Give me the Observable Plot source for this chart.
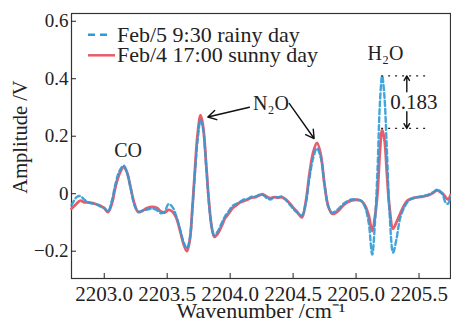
<!DOCTYPE html>
<html><head><meta charset="utf-8">
<script src="https://cdn.jsdelivr.net/npm/d3@7"></script>
<script src="https://cdn.jsdelivr.net/npm/@observablehq/plot@0.6"></script>
<style>body{margin:0;background:#fff} #chart svg{display:block}</style>
</head><body><div id="chart"></div>
<script>
const wavenumber = [2202.74,2202.78,2202.81,2202.84,2202.88,2202.92,2202.96,2203.00,2203.03,2203.06,2203.09,2203.12,2203.155,2203.18,2203.21,2203.24,2203.27,2203.30,2203.34,2203.38,2203.42,2203.45,2203.48,2203.51,2203.54,2203.57,2203.60,2203.63,2203.657,2203.68,2203.70,2203.72,2203.74,2203.765,2203.785,2203.81,2203.83,2203.855,2203.875,2203.90,2203.93,2203.96,2203.99,2204.02,2204.05,2204.08,2204.11,2204.14,2204.17,2204.20,2204.23,2204.26,2204.29,2204.32,2204.35,2204.38,2204.41,2204.44,2204.47,2204.50,2204.53,2204.57,2204.60,2204.63,2204.66,2204.69,2204.72,2204.75,2204.78,2204.81,2204.84,2204.87,2204.90,2204.93,2204.96,2205.00,2205.04,2205.07,2205.10,2205.128,2205.15,2205.17,2205.19,2205.207,2205.225,2205.245,2205.265,2205.294,2205.32,2205.35,2205.38,2205.41,2205.45,2205.49,2205.53,2205.57,2205.61,2205.645,2205.67,2205.69,2205.71,2205.73,2205.75];
const sunny = [-0.052,-0.035,-0.024,-0.030,-0.030,-0.034,-0.040,-0.050,-0.064,-0.035,0.025,0.068,0.093,0.075,0.020,-0.035,-0.064,-0.060,-0.050,-0.046,-0.050,-0.062,-0.066,-0.056,-0.062,-0.082,-0.125,-0.175,-0.200,-0.160,-0.050,0.080,0.200,0.273,0.235,0.100,-0.020,-0.120,-0.150,-0.140,-0.115,-0.085,-0.068,-0.050,-0.040,-0.030,-0.025,-0.020,-0.014,-0.012,-0.006,-0.002,-0.010,-0.015,-0.012,-0.014,-0.012,-0.020,-0.032,-0.048,-0.062,-0.082,-0.030,0.070,0.145,0.177,0.135,0.030,-0.045,-0.070,-0.066,-0.055,-0.040,-0.030,-0.024,-0.021,-0.025,-0.040,-0.075,-0.130,-0.080,0.000,0.150,0.222,0.190,0.070,-0.045,-0.122,-0.100,-0.070,-0.042,-0.023,-0.016,-0.012,-0.010,-0.006,0.002,0.012,0.005,0.000,-0.012,-0.020,-0.005];
const rainy = [-0.040,-0.012,-0.008,-0.020,-0.032,-0.035,-0.042,-0.050,-0.062,-0.025,0.035,0.078,0.098,0.075,0.020,-0.040,-0.062,-0.060,-0.055,-0.052,-0.058,-0.068,-0.062,-0.036,-0.045,-0.075,-0.120,-0.168,-0.190,-0.155,-0.055,0.070,0.180,0.256,0.225,0.095,-0.025,-0.120,-0.145,-0.132,-0.105,-0.078,-0.060,-0.042,-0.035,-0.028,-0.020,-0.018,-0.010,-0.010,-0.004,-0.004,-0.015,-0.020,-0.012,-0.012,-0.010,-0.020,-0.036,-0.052,-0.065,-0.075,-0.035,0.055,0.125,0.158,0.125,0.030,-0.045,-0.066,-0.060,-0.048,-0.035,-0.026,-0.020,-0.020,-0.024,-0.045,-0.100,-0.212,-0.100,0.080,0.320,0.410,0.340,0.150,-0.060,-0.205,-0.160,-0.085,-0.050,-0.028,-0.015,-0.012,-0.008,-0.004,0.005,0.014,0.008,-0.005,-0.030,-0.035,-0.010];
const seriesNames = ["Feb/5 9:30 rainy day", "Feb/4 17:00 sunny day"];
const xTicks = [2203.0, 2203.5, 2204.0, 2204.5, 2205.0, 2205.5];
const yTicks = [-0.2, 0, 0.2, 0.4, 0.6];
const peakNames = ["CO", "N₂O", "H₂O"];
const peakX = [2203.19, 2204.324, 2205.234];
const peakY = [0.151, 0.314, 0.489];
const n2oArrowX1 = [2204.153, 2204.469], n2oArrowY1 = [0.301, 0.314];
const n2oArrowX2 = [2203.823, 2204.667], n2oArrowY2 = [0.267, 0.192];
const h2oLevels = [0.41, 0.227];
const h2oDiffLabel = "0.183";

const blue = "#2e9bd8", red = "#e65e6d";
const ML = 71;
const rows = wavenumber.map((w, i) => ({w, sunny: sunny[i], rainy: rainy[i]}));
const fmtY = d => d === 0 ? "0" : (d < 0 ? "\u2212" : "") + Math.abs(d).toFixed(1);

function legend() {
  const g = d3.create("svg:g").attr("font-size", 22).attr("text-anchor", "start");
  const entries = [
    {name: seriesNames[0], color: blue, dash: "7,5", y: 34.7, len: 20},
    {name: seriesNames[1], color: red, dash: null, y: 55.3, len: 27}
  ];
  for (const e of entries) {
    g.append("line").attr("x1", ML + 17).attr("x2", ML + 17 + e.len).attr("y1", e.y).attr("y2", e.y)
      .attr("stroke", e.color).attr("stroke-width", 2.5).attr("stroke-dasharray", e.dash);
    g.append("text").attr("x", ML + 46).attr("y", e.y).attr("dy", "0.32em").attr("fill", "#222").text(e.name);
  }
  return g.node();
}

const diffX = 2205.403;
const chart = Plot.plot({
  width: 451, height: 322,
  marginLeft: ML, marginRight: 1, marginTop: 13, marginBottom: 44,
  style: {fontFamily: "Liberation Serif", fontSize: "20px", color: "#222", background: "#fff"},
  x: {domain: [2202.74, 2205.75], axis: null},
  y: {domain: [-0.295, 0.627], axis: null},
  marks: [
    Plot.frame({stroke: "#333", strokeWidth: 1.2}),
    Plot.axisX(xTicks, {tickSize: -5, tickPadding: 13, tickFormat: d3.format(".1f"), label: null, fontSize: 21}),
    Plot.axisY(yTicks, {tickSize: -5, tickPadding: 8, tickFormat: fmtY, label: null, fontSize: 19}),
    Plot.text(["Wavenumber /cm\u207B\u00B9"], {frameAnchor: "bottom", dy: 32, fontSize: 22, lineAnchor: "middle", textAnchor: "middle"}),
    Plot.text(["Amplitude /V"], {frameAnchor: "left", dx: -51, dy: -9, rotate: -90, fontSize: 20.5, textAnchor: "middle", lineAnchor: "middle"}),
    Plot.line(rows, {x: "w", y: "sunny", stroke: red, strokeWidth: 2.8, curve: "catmull-rom"}),
    Plot.line(rows, {x: "w", y: "rainy", stroke: blue, strokeWidth: 2.4, strokeDasharray: "5,3", curve: "catmull-rom", strokeOpacity: 0.9}),
    Plot.text(peakNames, {x: (d, i) => peakX[i], y: (d, i) => peakY[i], fontSize: 20}),
    Plot.arrow([0, 1], {x1: i => n2oArrowX1[i], y1: i => n2oArrowY1[i], x2: i => n2oArrowX2[i], y2: i => n2oArrowY2[i], stroke: "#111", strokeWidth: 1.4, headLength: 10}),
    Plot.ruleY(h2oLevels, {x1: 2205.203, x2: 2205.577, stroke: "#222", strokeWidth: 1.2, strokeDasharray: "2,5"}),
    Plot.arrow([0], {x1: diffX, x2: diffX, y1: 0.355, y2: h2oLevels[0], stroke: "#111", strokeWidth: 1.4, headLength: 9}),
    Plot.arrow([0], {x1: diffX, x2: diffX, y1: 0.285, y2: h2oLevels[1], stroke: "#111", strokeWidth: 1.4, headLength: 9}),
    Plot.text([h2oDiffLabel], {x: 2205.46, y: 0.319, fontSize: 21}),
    legend
  ]
});
document.getElementById("chart").append(chart);
</script></body></html>
